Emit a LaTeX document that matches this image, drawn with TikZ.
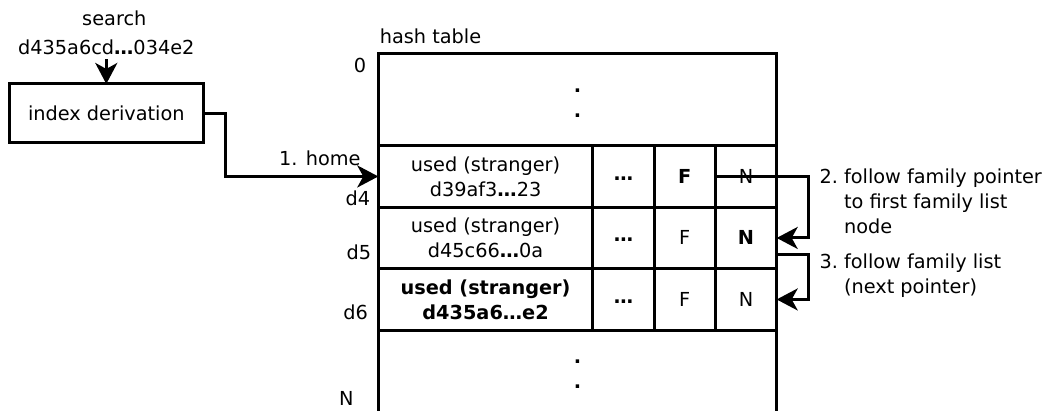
\documentclass[tikz,border=0pt]{standalone}
\usepackage{fontspec}
\setmainfont{DejaVu Sans}
\usetikzlibrary{positioning,arrows.meta}
\newcommand{\diagfont}{\fontsize{19.3}{25}\selectfont}
\newcommand{\hdots}{\textbf{…}}

\begin{document}
\begin{tikzpicture}[
  x=1pt, y=-1pt,
  font=\diagfont,
  line width=3pt,
  cell/.style={draw, line width=3pt, outer sep=0pt, inner sep=0pt,
               minimum height=61.5pt, align=center},
  wide/.style={cell, minimum width=214.5pt},
  narrow/.style={cell, minimum width=61.3pt},
  gap/.style={narrow, text height=8pt, text depth=0pt},
  boldcell/.style={font=\diagfont\bfseries},
  idxbox/.style={draw, line width=3pt, outer sep=0pt,
                 minimum width=194pt, minimum height=58.7pt},
  ptr/.style={-{Stealth[length=21pt,width=22pt,inset=6pt]}, line width=3pt},
  rowlbl/.style={anchor=east, inner sep=0pt},
  note/.style={anchor=base west, inner sep=0pt, align=left},
  vdots/.style={font=\diagfont\bfseries, align=center, inner sep=0pt},
]
\useasboundingbox (0,0) rectangle (1046,410);
\coordinate (floor) at (0,412);

% ---- Search key and index derivation ----
\node (search) at (114.3,18) {search};
\node (key) at (106.3,47) {d435a6cd\hdots034e2};
\node[idxbox] (idx) at (106.3,113.3) {index derivation};
\draw[ptr] (key.south) -- (idx.north);

% ---- Hash table ----
\node[anchor=west, inner sep=0pt] (title) at (378.3,36) {hash table};
\node[cell, minimum width=398.4pt, minimum height=92.4pt, anchor=north west] (top) at (378.3,53.3) {};
\node[vdots] (topdots) at (577.5,103.2) {.\\.};

\node[wide, anchor=north west] (u4) at (top.south west) {used (stranger)\\d39af3\hdots23};
\node[gap, right=0pt of u4] (e4) {\hdots};
\node[narrow, right=0pt of e4] (f4) {\textbf{F}};
\node[narrow, right=0pt of f4] (n4) {N};

\node[wide, below=0pt of u4] (u5) {used (stranger)\\d45c66\hdots0a};
\node[gap, right=0pt of u5] (e5) {\hdots};
\node[narrow, right=0pt of e5] (f5) {F};
\node[narrow, right=0pt of f5] (n5) {\textbf{N}};

\node[wide, boldcell, below=0pt of u5] (u6) {used (stranger)\\d435a6…e2};
\node[gap, right=0pt of u6] (e6) {\hdots};
\node[narrow, right=0pt of e6] (f6) {F};
\node[narrow, right=0pt of f6] (n6) {N};

% open bottom part
\draw (u6.south west) -- (u6.south west |- floor);
\draw (n6.south east) -- (n6.south east |- floor);
\node[vdots] (botdots) at (577.5,374.4) {.\\.};

% ---- Row indices ----
\node[rowlbl] (l0) at (367.7,65) {0};
\node[rowlbl] (l4) at (371.7,198) {d4};
\node[rowlbl] (l5) at (372.7,252) {d5};
\node[rowlbl] (l6) at (369.3,312) {d6};
\node[rowlbl] (lN) at (355,398) {N};

% ---- Lookup steps ----
\draw[ptr] (idx.east) -- ++(22.4,0) |- (u4.west);
\node[anchor=base east, inner sep=0pt] (home) at (362,165) {1. home};

\draw[ptr] (n4.west) -- ++(92.6,0) |- (n5.east);
\draw[ptr] ([yshift=-16.5pt]n5.east) -- ++(31.6,0) |- (n6.east);

\node[note] (step2) at (818,183.3) {\begin{tabular}[t]{@{}l@{\ }l@{}}2.&follow family pointer\\&to first family list\\&node\end{tabular}};
\node[note] (step3) at (818,268.3) {\begin{tabular}[t]{@{}l@{\ }l@{}}3.&follow family list\\&(next pointer)\end{tabular}};

\end{tikzpicture}
\end{document}
